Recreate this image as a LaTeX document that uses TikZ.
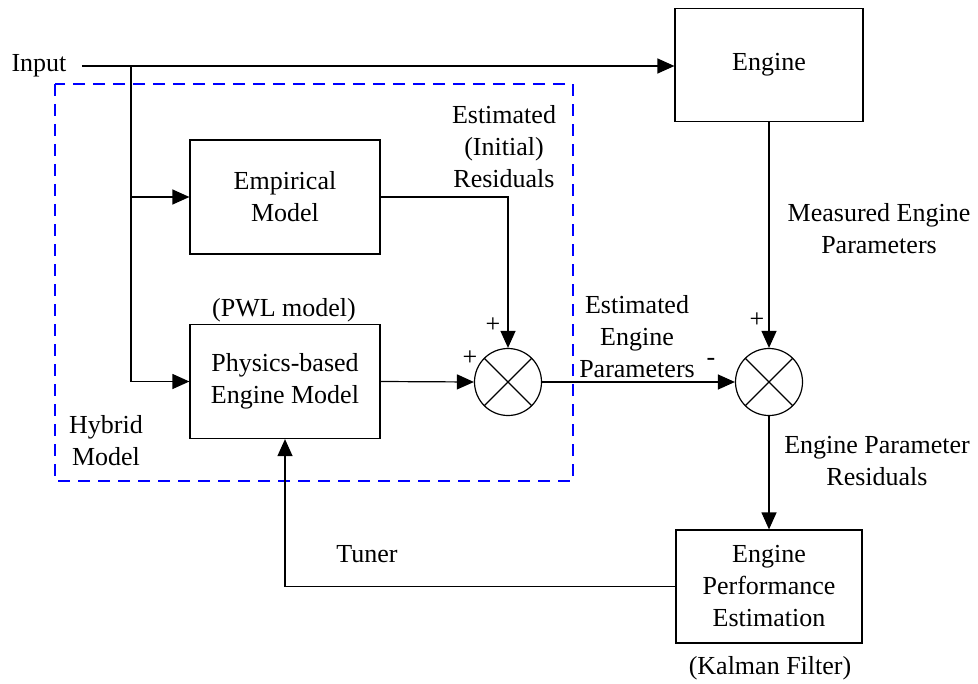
\documentclass[tikz,border=0pt]{standalone}
\usepackage{fontspec}
\setmainfont{Liberation Serif}
\usetikzlibrary{arrows.meta, calc, positioning}
\tikzset{
	blk/.style={draw, line width=0.6pt, minimum width=95pt, minimum height=57pt, align=center, inner sep=2pt},
	sumj/.style={draw, circle, line width=0.6pt, minimum size=33.5pt, inner sep=0pt},
	sig/.style={line width=0.6pt, -{Triangle[length=8.5pt,width=7.5pt]}}
}

\begin{document}
\begin{tikzpicture}[
	x=0.5pt, y=-0.5pt,
	font=\fontsize{13}{16}\selectfont,
	lbl/.style={align=center, inner sep=0pt},
	hybrid/.style={draw=blue, line width=0.9pt, dash pattern=on 6pt off 4pt}]
	\useasboundingbox (0,0) rectangle (978,684);
	% blocks
	\node[blk, minimum width=94pt, minimum height=56.5pt] (eng) at (769,65) {Engine};
	\node[blk] (emp) at (285,197) {Empirical\\Model};
	\node[blk] (phy) at (285,381.5) {Physics-based\\Engine Model};
	\node[blk, minimum width=93pt, minimum height=56.5pt] (epe) at (769,586.5) {Engine\\Performance\\Estimation};
	\node[sumj] (s1) at (508,382) {};
	\node[sumj] (s2) at (769,382) {};
	\foreach \s in {s1,s2}{
		\draw[line width=0.6pt] (\s.north west) -- (\s.south east) (\s.north east) -- (\s.south west);
	}
	% hybrid model frame
	\draw[hybrid] (55,84) rectangle (573,481);
	% signals
	\node[lbl] (in) at (39,66) {Input};
	\coordinate (split) at (131,66);
	\draw[sig, shorten <=7.5pt] (in.east) -- (in.east -| eng.west);
	\draw[line width=0.6pt] (split) -- (split |- phy.west);
	\draw[sig] (split) |- (emp.west);
	\draw[sig] (split) |- (phy.west);
	\draw[sig] (emp.east) -| (s1.north);
	\draw[sig] (phy.east) -- (s1.west);
	\draw[sig] (s1.east) -- (s2.west);
	\draw[sig] (eng.south) -- (s2.north);
	\draw[sig] (s2.south) -- (epe.north);
	\draw[sig] (epe.west) -| (phy.south);
	% labels
	\node[lbl] (pwl) at (284,310) {(PWL model)};
	\node[lbl] (kal) at (770,668) {(Kalman Filter)};
	\node[lbl] (tun) at (367,554) {Tuner};
	\node[lbl] (hyb) at (106,441) {Hybrid\\Model};
	\node[lbl] (eir) at (504,147) {Estimated\\(Initial)\\Residuals};
	\node[lbl] (eep) at (637,337) {Estimated\\Engine\\Parameters};
	\node[lbl] (mep) at (879,228.5) {Measured Engine\\Parameters};
	\node[lbl] (epr) at (877,461) {Engine Parameter\\Residuals};
	\node[lbl] (p1) at (493,325) {+};
	\node[lbl] (p2) at (470,358) {+};
	\node[lbl] (p3) at (757,320) {+};
	\node[lbl] (m1) at (711,362) {-};
\end{tikzpicture}
\end{document}
